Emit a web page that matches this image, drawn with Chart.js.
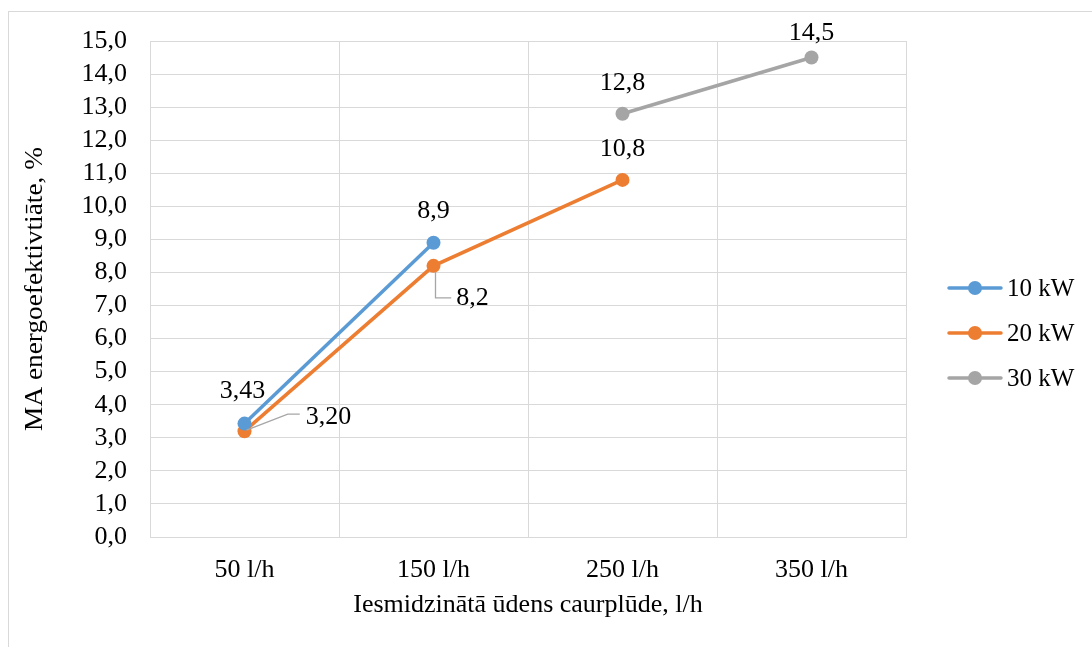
<!DOCTYPE html>
<html>
<head>
<meta charset="utf-8">
<script src="https://cdn.jsdelivr.net/npm/chart.js@4.4.1/dist/chart.umd.min.js"></script>
<style>
  html, body { margin: 0; padding: 0; background: #ffffff; }
  #wrap { position: relative; width: 1092px; height: 647px; }
</style>
</head>
<body>
<div id="wrap"><canvas id="c" width="1092" height="647"></canvas></div>
<script>
// Flow rate categories and measured efficiency per heater power
const categories = ['50 l/h', '150 l/h', '250 l/h', '350 l/h'];
const seriesNames = ['10 kW', '20 kW', '30 kW'];
const values10kW = [3.43, 8.9, null, null];
const values20kW = [3.20, 8.2, 10.8, null];
const values30kW = [null, null, 12.8, 14.5];
const labelText10kW = ['3,43', '8,9', null, null];
const labelText20kW = ['3,20', '8,2', '10,8', null];
const labelText30kW = [null, null, '12,8', '14,5'];
const yTicksMin = 0, yTicksMax = 15, yTickStep = 1;
const xTitle = 'Iesmidzinātā ūdens caurplūde, l/h';
const yTitle = 'MA energoefektivtiāte, %';

const colors = ['#5b9bd5', '#ed7d31', '#a5a5a5'];
const FONT = '"Liberation Serif", "Times New Roman", serif';
const FS = 26;

// label placement: dx/dy from the point, optional leader line
const labelPlacement = [
  [{ dx: -2, dy: -32 }, { dx: 0, dy: -32 }, null, null],
  [{ dx: 84, dy: -14, leader: 'diag' }, { dx: 39, dy: 32, leader: 'elbow' }, { dx: 0, dy: -31 }, null],
  [null, null, { dx: 0, dy: -31 }, { dx: 0, dy: -24 }]
];
const labelTexts = [labelText10kW, labelText20kW, labelText30kW];

const frame = {
  id: 'frame',
  beforeDraw(chart) {
    const ctx = chart.ctx;
    ctx.save();
    ctx.fillStyle = '#ffffff';
    ctx.fillRect(0, 0, chart.width, chart.height);
    ctx.strokeStyle = '#d9d9d9';
    ctx.lineWidth = 1;
    ctx.strokeRect(8.5, 11.5, 3000, 3000);
    ctx.restore();
  }
};

// vertical axis title, slightly elongated along its run
const yAxisTitle = {
  id: 'yAxisTitle',
  afterDraw(chart) {
    const ctx = chart.ctx;
    const area = chart.chartArea;
    ctx.save();
    ctx.font = FS + 'px ' + FONT;
    ctx.fillStyle = '#000000';
    ctx.textAlign = 'center';
    ctx.textBaseline = 'middle';
    ctx.translate(35, (area.top + area.bottom) / 2);
    ctx.rotate(-Math.PI / 2);
    ctx.scale(1.05, 1);
    ctx.fillText(yTitle, 0, 0);
    ctx.restore();
  }
};

const pointLabels = {
  id: 'pointLabels',
  afterDatasetsDraw(chart) {
    const ctx = chart.ctx;
    ctx.save();
    ctx.font = FS + 'px ' + FONT;
    ctx.fillStyle = '#000000';
    ctx.textAlign = 'center';
    ctx.textBaseline = 'middle';
    chart.data.datasets.forEach((ds, di) => {
      const meta = chart.getDatasetMeta(di);
      meta.data.forEach((pt, i) => {
        const txt = labelTexts[di][i];
        const place = labelPlacement[di][i];
        if (!txt || !place || ds.data[i] == null) return;
        const x = pt.x, y = pt.y;
        const lx = x + place.dx, ly = y + place.dy;
        if (place.leader) {
          const w = ctx.measureText(txt).width;
          ctx.strokeStyle = '#a6a6a6';
          ctx.lineWidth = 1.3;
          ctx.beginPath();
          if (place.leader === 'diag') {
            const ex = lx - w / 2 - 6;
            ctx.moveTo(x + 2, y - 1);
            ctx.lineTo(ex - 12, ly - 3);
            ctx.lineTo(ex, ly - 3);
          } else {
            const ex = lx - w / 2 - 5;
            ctx.moveTo(x + 2, y + 6);
            ctx.lineTo(x + 2, ly);
            ctx.lineTo(ex, ly);
          }
          ctx.stroke();
        }
        ctx.fillText(txt, lx, ly);
      });
    });
    ctx.restore();
  }
};

const sideLegend = {
  id: 'sideLegend',
  afterDraw(chart) {
    const ctx = chart.ctx;
    ctx.save();
    ctx.font = '25px ' + FONT;
    ctx.textBaseline = 'middle';
    ctx.textAlign = 'left';
    seriesNames.forEach((name, i) => {
      const y = 288 + i * 45;
      ctx.strokeStyle = colors[i];
      ctx.lineWidth = 3.5;
      ctx.lineCap = 'round';
      ctx.beginPath();
      ctx.moveTo(949, y);
      ctx.lineTo(1001, y);
      ctx.stroke();
      ctx.fillStyle = colors[i];
      ctx.beginPath();
      ctx.arc(975, y, 7, 0, Math.PI * 2);
      ctx.fill();
      ctx.fillStyle = '#000000';
      ctx.fillText(name, 1007, y + 1);
    });
    ctx.restore();
  }
};

const makeDataset = (label, data, color) => ({
  label, data,
  borderColor: color,
  backgroundColor: color,
  borderWidth: 3.5,
  pointRadius: 7,
  pointHoverRadius: 7,
  pointBorderWidth: 0,
  tension: 0,
  spanGaps: false
});

new Chart(document.getElementById('c'), {
  type: 'line',
  data: {
    labels: categories,
    datasets: [
      makeDataset(seriesNames[0], values10kW, colors[0]),
      makeDataset(seriesNames[1], values20kW, colors[1]),
      makeDataset(seriesNames[2], values30kW, colors[2])
    ]
  },
  options: {
    responsive: false,
    animation: false,
    devicePixelRatio: 1,
    layout: { padding: { left: 0, top: 41, right: 186, bottom: 0 } },
    plugins: {
      legend: { display: false },
      tooltip: { enabled: false }
    },
    scales: {
      x: {
        type: 'category',
        offset: true,
        grid: { offset: true, color: '#d9d9d9', lineWidth: 1, drawTicks: false },
        border: { color: '#d9d9d9', width: 1 },
        ticks: { color: '#000000', font: { family: FONT, size: FS }, padding: 18, maxRotation: 0, autoSkip: false },
        title: {
          display: true,
          text: xTitle,
          color: '#000000',
          font: { family: FONT, size: FS },
          padding: { top: 0, bottom: 26 }
        },
        afterFit(scale) { scale.height = 110; }
      },
      y: {
        min: yTicksMin,
        max: yTicksMax,
        grid: { color: '#d9d9d9', lineWidth: 1, drawTicks: false },
        border: { color: '#d9d9d9', width: 1 },
        ticks: {
          stepSize: yTickStep,
          autoSkip: false,
          color: '#000000',
          font: { family: FONT, size: FS },
          padding: 23,
          callback: v => v.toFixed(1).replace('.', ',')
        },
        title: { display: false },
        afterFit(scale) { scale.width = 150; }
      }
    }
  },
  plugins: [frame, yAxisTitle, pointLabels, sideLegend]
});
</script>
</body>
</html>
